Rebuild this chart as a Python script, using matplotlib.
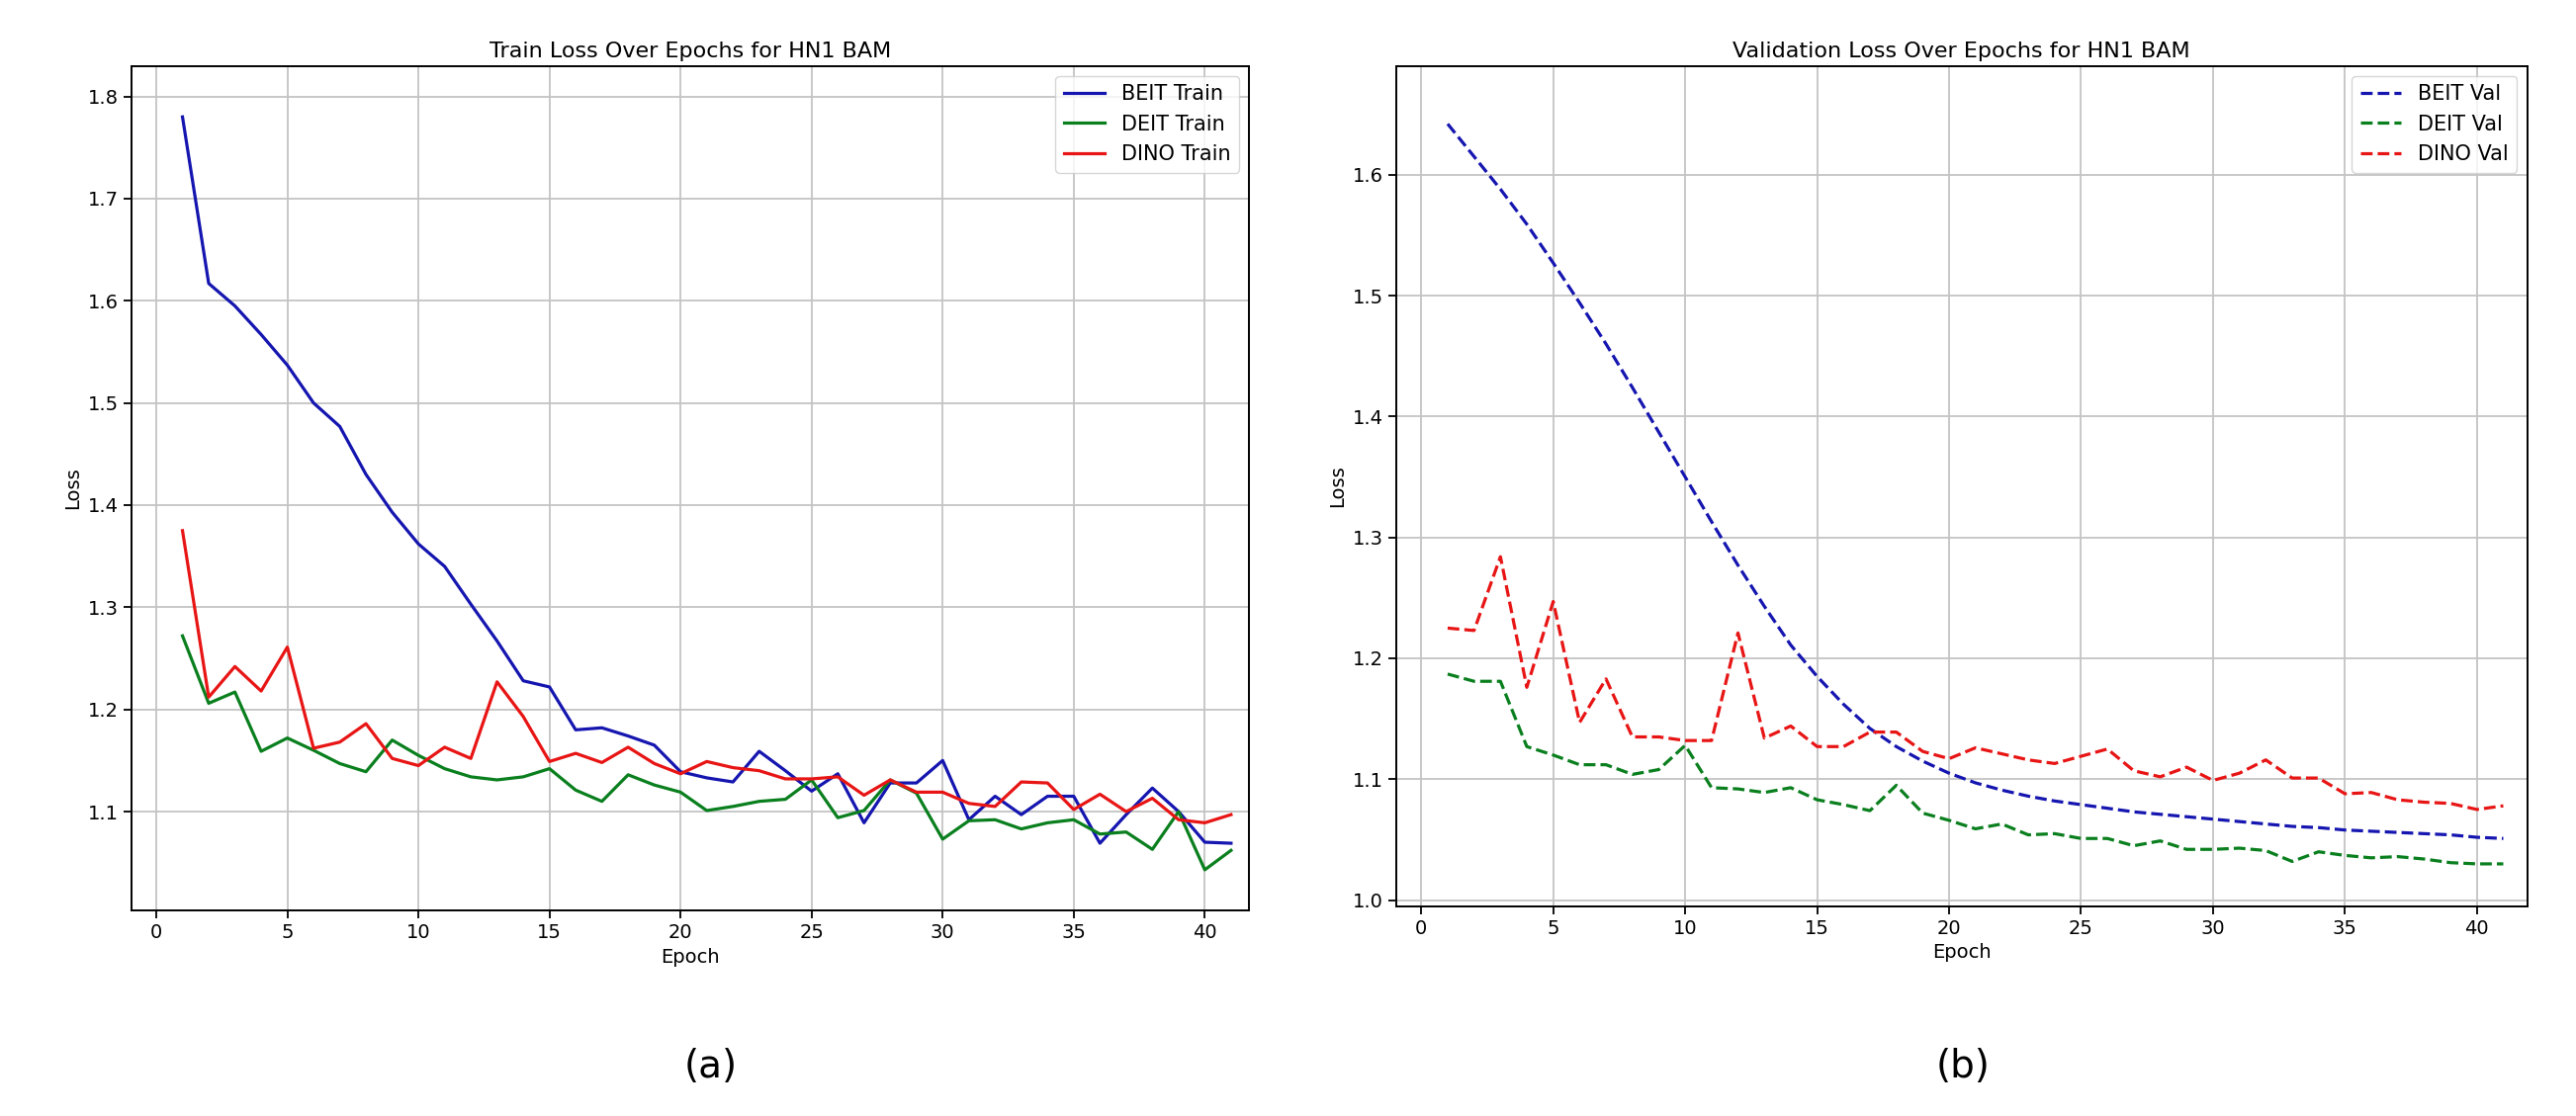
import numpy as np
import matplotlib.pyplot as plt

epochs = list(range(1, 42))

beit_train = [1.78, 1.617, 1.595, 1.567, 1.537, 1.5, 1.477, 1.43, 1.393, 1.362,
              1.34, 1.303, 1.267, 1.228, 1.222, 1.18, 1.182, 1.174, 1.165, 1.139,
              1.133, 1.129, 1.159, 1.14, 1.12, 1.137, 1.089, 1.128, 1.128, 1.15,
              1.092, 1.115, 1.097, 1.115, 1.115, 1.069, 1.097, 1.123, 1.1, 1.07, 1.069]
deit_train = [1.272, 1.206, 1.217, 1.159, 1.172, 1.16, 1.147, 1.139, 1.17, 1.155,
              1.142, 1.134, 1.131, 1.134, 1.142, 1.121, 1.11, 1.136, 1.126, 1.119,
              1.101, 1.105, 1.11, 1.112, 1.131, 1.094, 1.101, 1.131, 1.118, 1.073,
              1.091, 1.092, 1.083, 1.089, 1.092, 1.078, 1.08, 1.063, 1.1, 1.043, 1.062]
dino_train = [1.375, 1.212, 1.242, 1.218, 1.261, 1.162, 1.168, 1.186, 1.152, 1.145,
              1.163, 1.152, 1.227, 1.193, 1.149, 1.157, 1.148, 1.163, 1.147, 1.137,
              1.149, 1.143, 1.14, 1.132, 1.132, 1.134, 1.116, 1.131, 1.119, 1.119,
              1.108, 1.105, 1.129, 1.128, 1.102, 1.117, 1.1, 1.113, 1.092, 1.089, 1.097]

beit_val = [1.642, 1.615, 1.588, 1.559, 1.527, 1.494, 1.46, 1.424, 1.387, 1.35,
            1.313, 1.277, 1.243, 1.211, 1.185, 1.162, 1.142, 1.127, 1.115, 1.105,
            1.097, 1.091, 1.086, 1.082, 1.079, 1.076, 1.073, 1.071, 1.069, 1.067,
            1.065, 1.063, 1.061, 1.06, 1.058, 1.057, 1.056, 1.055, 1.054, 1.052, 1.051]
deit_val = [1.187, 1.181, 1.181, 1.127, 1.12, 1.112, 1.112, 1.104, 1.108, 1.128,
            1.093, 1.092, 1.089, 1.093, 1.083, 1.079, 1.074, 1.095, 1.072, 1.066,
            1.059, 1.063, 1.054, 1.055, 1.051, 1.051, 1.045, 1.049, 1.042, 1.042,
            1.043, 1.041, 1.032, 1.04, 1.037, 1.035, 1.036, 1.034, 1.031, 1.03, 1.03]
dino_val = [1.225, 1.223, 1.284, 1.176, 1.247, 1.147, 1.183, 1.135, 1.135, 1.132,
            1.132, 1.221, 1.134, 1.144, 1.127, 1.127, 1.139, 1.139, 1.123, 1.117,
            1.126, 1.121, 1.116, 1.113, 1.119, 1.125, 1.107, 1.102, 1.11, 1.099,
            1.105, 1.116, 1.101, 1.101, 1.088, 1.089, 1.083, 1.081, 1.08, 1.075, 1.078]

blue = '#1515b0'
green = '#0a7f1e'
red = '#e81515'

fig = plt.figure(figsize=(26.05, 11.29), dpi=100)
ax1 = fig.add_axes([0.051, 0.184, 0.434, 0.757])
ax2 = fig.add_axes([0.542, 0.188, 0.439, 0.753])

lw = 2.3
ax1.plot(epochs, beit_train, color=blue, lw=lw, label="BEIT Train")
ax1.plot(epochs, deit_train, color=green, lw=lw, label="DEIT Train")
ax1.plot(epochs, dino_train, color=red, lw=lw, label="DINO Train")
ax1.set_title("Train Loss Over Epochs for HN1 BAM", fontsize=16)
ax1.set_xlim(-0.95, 41.7)
ax1.set_ylim(1.003, 1.83)

ax2.plot(epochs, beit_val, '--', color=blue, lw=lw, label="BEIT Val")
ax2.plot(epochs, deit_val, '--', color=green, lw=lw, label="DEIT Val")
ax2.plot(epochs, dino_val, '--', color=red, lw=lw, label="DINO Val")
ax2.set_title("Validation Loss Over Epochs for HN1 BAM", fontsize=16)
ax2.set_xlim(-0.95, 41.9)
ax2.set_ylim(0.995, 1.69)

for ax in (ax1, ax2):
    ax.set_xlabel("Epoch", fontsize=14)
    ax.set_ylabel("Loss", fontsize=14)
    ax.tick_params(labelsize=14, width=1.3, length=6)
    ax.grid(True, lw=1.3, color='#c4c4c4')
    ax.legend(fontsize=15, loc='upper right')
    for s in ax.spines.values():
        s.set_linewidth(1.4)

fig.text(0.276, 0.044, "(a)", fontsize=28, ha='center', va='center')
fig.text(0.762, 0.044, "(b)", fontsize=28, ha='center', va='center')

fig.savefig("out.png", dpi=100)
